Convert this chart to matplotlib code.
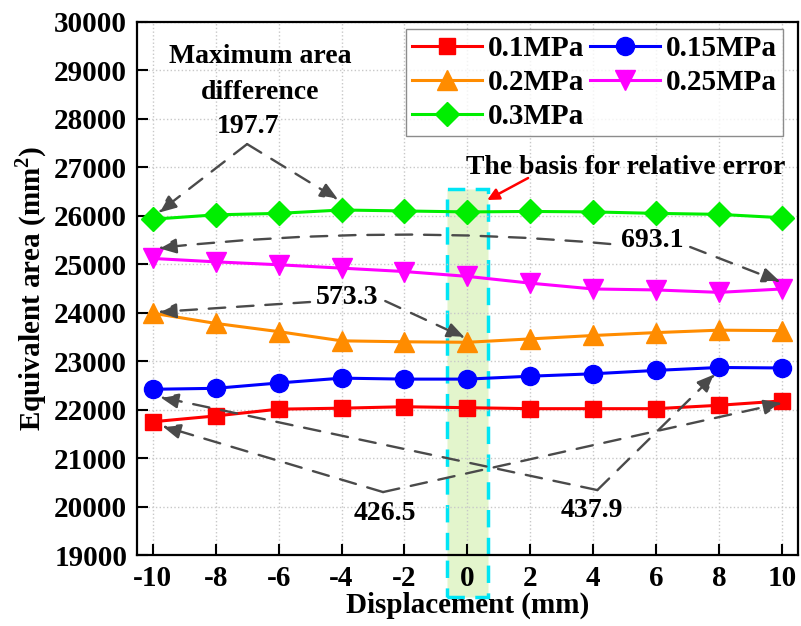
import matplotlib
matplotlib.use("Agg")
import matplotlib.pyplot as plt
from matplotlib.patches import Rectangle

# ---------------- data ----------------
displacement = [-10, -8, -6, -4, -2, 0, 2, 4, 6, 8, 10]
p01 = [21750, 21870, 22010, 22030, 22060, 22040, 22020, 22020, 22020, 22090, 22180]
p015 = [22420, 22440, 22550, 22650, 22630, 22630, 22690, 22740, 22810, 22870, 22860]
p02 = [23990, 23780, 23610, 23420, 23400, 23390, 23460, 23530, 23590, 23640, 23630]
p025 = [25120, 25050, 24990, 24920, 24850, 24750, 24610, 24490, 24470, 24420, 24490]
p03 = [25930, 26020, 26050, 26120, 26100, 26080, 26090, 26080, 26050, 26030, 25960]
series_labels = ["0.1MPa", "0.15MPa", "0.2MPa", "0.25MPa", "0.3MPa"]
x_ticks = [-10, -8, -6, -4, -2, 0, 2, 4, 6, 8, 10]
y_ticks = [19000, 20000, 21000, 22000, 23000, 24000, 25000, 26000, 27000, 28000, 29000, 30000]

plt.rcParams['font.family'] = ['Liberation Serif', 'DejaVu Serif']
plt.rcParams['font.weight'] = 'bold'
plt.rcParams['axes.unicode_minus'] = False
plt.rcParams['mathtext.fontset'] = 'custom'
plt.rcParams['mathtext.rm'] = 'Liberation Serif:bold'
plt.rcParams['mathtext.bf'] = 'Liberation Serif:bold'

fig = plt.figure(figsize=(8.01, 6.26), dpi=100)
ax = fig.add_axes([0.171, 0.1134, 0.825, 0.8515])

styles = [
    dict(color='#ff0000', marker='s', ms=12),
    dict(color='#0000ff', marker='o', ms=13),
    dict(color='#ff8c00', marker='^', ms=14),
    dict(color='#ff00ff', marker='v', ms=14),
    dict(color='#00ee00', marker='D', ms=12),
]
handles = []
for vals, lab, st in zip([p01, p015, p02, p025, p03], series_labels, styles):
    h, = ax.plot(displacement, vals, color=st['color'], marker=st['marker'],
                 markersize=st['ms'], lw=2.2, label=lab, zorder=4)
    handles.append(h)

ax.set_xlim(-10.5, 10.5)
ax.set_ylim(19000, 30000)
ax.set_xticks(x_ticks)
ax.set_yticks(y_ticks)
ax.tick_params(axis='both', direction='in', length=8, width=1.5, labelsize=21, pad=7,
               top=False, right=False)
ax.grid(True, color='#c8c8c8', linestyle=':', linewidth=1)
for sp in ax.spines.values():
    sp.set_linewidth(1.6)

ax.set_xlabel('Displacement (mm)', fontsize=21, fontweight='bold', labelpad=0)
ax.set_ylabel('Equivalent area (mm$^{\\mathbf{2}}$)', fontsize=21, fontweight='bold', labelpad=4)

# basis rectangle
rect = Rectangle((-0.65, 18130), 1.3, 26550 - 18130, facecolor='#e3f5cc', edgecolor='#00e5f5',
                 linestyle=(0, (5, 3)), linewidth=2.5, clip_on=False, zorder=1)
ax.add_patch(rect)

ax.annotate('', xy=(0.63, 26326), xytext=(1.93, 26780),
            arrowprops=dict(arrowstyle='-|>,head_length=0.7,head_width=0.35', color='#ff0000',
                            lw=1.8, shrinkA=0, shrinkB=0), zorder=6)
ax.text(5.02, 27007, 'The basis for relative error', fontsize=20, ha='center', va='center',
        fontweight='bold', zorder=6)

# annotations
gray = '#4a4a4a'
def darrow(start, end, rad=0.0):
    ax.annotate('', xy=end, xytext=start,
                arrowprops=dict(arrowstyle='-|>,head_length=1.1,head_width=0.45', color=gray,
                                lw=1.7, linestyle=(0, (7, 5)), shrinkA=0, shrinkB=0,
                                connectionstyle=f'arc3,rad={rad}'), zorder=5)

ax.text(-6.59, 29278, 'Maximum area', fontsize=20, ha='center', va='center', fontweight='bold')
ax.text(-6.59, 28535, 'difference', fontsize=20, ha='center', va='center', fontweight='bold')
ax.text(-6.97, 27833, '197.7', fontsize=20, ha='center', va='center', fontweight='bold')
darrow((-7.0, 27480), (-9.83, 26060))
darrow((-7.0, 27480), (-4.1, 26330))

ax.text(5.87, 25500, '693.1', fontsize=20, ha='center', va='center', fontweight='bold')
darrow((4.54, 25418), (-9.83, 25335), rad=0.05)
darrow((7.08, 25356), (9.95, 24634))

ax.text(-3.82, 24324, '573.3', fontsize=20, ha='center', va='center', fontweight='bold')
darrow((-5.0, 24221), (-9.83, 24015))
darrow((-2.61, 24241), (-0.07, 23478))

ax.text(-2.61, 19866, '426.5', fontsize=20, ha='center', va='center', fontweight='bold')
darrow((-2.68, 20299), (-9.7, 21662))
darrow((-2.68, 20299), (10.0, 22136))

ax.text(3.97, 19928, '437.9', fontsize=20, ha='center', va='center', fontweight='bold')
darrow((4.13, 20340), (-9.77, 22260))
darrow((4.13, 20340), (7.88, 22735))

order = [0, 2, 4, 1, 3]
leg = ax.legend([handles[i] for i in order], [series_labels[i] for i in order],
                loc='upper right', bbox_to_anchor=(0.977, 0.987), borderaxespad=0, ncol=2,
                frameon=True, fancybox=False, edgecolor='#707070',
                handlelength=2.4, handletextpad=0.2, columnspacing=0.2, labelspacing=0.25,
                borderpad=0.2, prop={'weight': 'bold', 'size': 21})
leg.get_frame().set_linewidth(1.0)
leg.set_zorder(7)

fig.savefig('out.png', dpi=100)
